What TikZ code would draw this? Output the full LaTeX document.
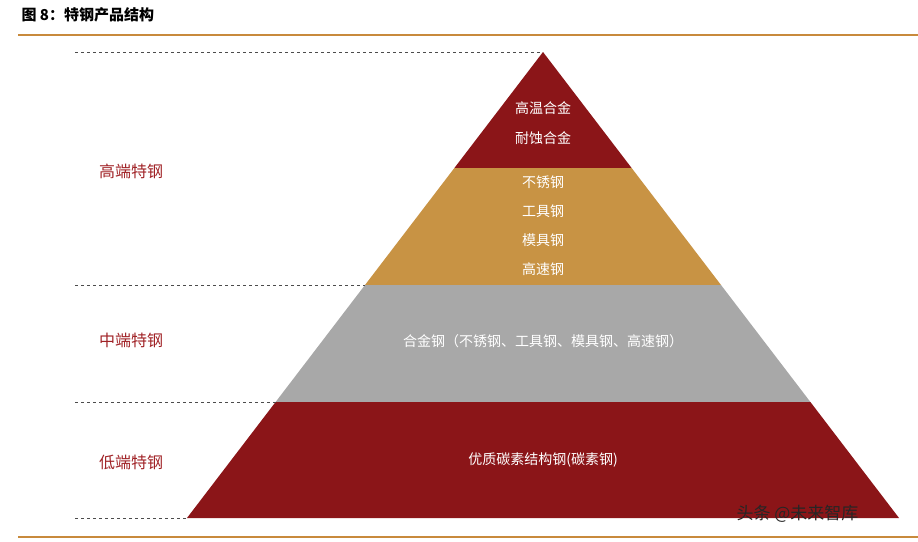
\documentclass[tikz,border=0pt]{standalone}
\usepackage{fontspec}
\newfontfamily\cjk{Noto Sans CJK SC}
\definecolor{dred}{HTML}{8B1518}
\definecolor{gold}{HTML}{C89344}
\definecolor{mgray}{HTML}{A8A8A8}
\definecolor{lab}{HTML}{A02226}
\definecolor{rulec}{HTML}{C88A3C}
\begin{document}
\begin{tikzpicture}[x=1pt,y=-1pt,
  wt/.style={text=white,font=\cjk\fontsize{14}{14}\selectfont,anchor=center},
  lv/.style={text=lab,font=\cjk\fontsize{16}{16}\selectfont,anchor=center},
  dl/.style={dashed,black!70,line width=0.7pt}]
\useasboundingbox (0,0) rectangle (918,541);
\coordinate (apex) at (543,52);
\coordinate (l1) at ({543-0.764*116},168); \coordinate (r1) at ({543+0.764*116},168);
\coordinate (l2) at ({543-0.764*233},285); \coordinate (r2) at ({543+0.764*233},285);
\coordinate (l3) at ({543-0.764*350},402); \coordinate (r3) at ({543+0.764*350},402);
\coordinate (l4) at ({543-0.764*466},518); \coordinate (r4) at ({543+0.764*466},518);
\fill[dred] (apex)--(r1)--(l1)--cycle;
\fill[gold] (l1)--(r1)--(r2)--(l2)--cycle;
\fill[mgray] (l2)--(r2)--(r3)--(l3)--cycle;
\fill[dred] (l3)--(r3)--(r4)--(l4)--cycle;
\coordinate (d0) at (75,52); \coordinate (d2) at (75,285);
\coordinate (d3) at (75,402); \coordinate (d4) at (75,518);
\draw[dl] (d0)--(apex); \draw[dl] (d2)--(l2); \draw[dl] (d3)--(l3); \draw[dl] (d4)--(l4);
\node[wt] (a1) at (543,108) {高温合金};
\node[wt] (a2) at (543,138) {耐蚀合金};
\node[wt] (b1) at (543,182) {不锈钢};
\node[wt] (b2) at (543,211) {工具钢};
\node[wt] (b3) at (543,240) {模具钢};
\node[wt] (b4) at (543,269) {高速钢};
\node[wt] (c1) at (543,341) {合金钢（不锈钢、工具钢、模具钢、高速钢）};
\node[wt] (e1) at (543,460) {优质碳素结构钢(碳素钢)};
\node[lv] (h) at (131,171) {高端特钢};
\node[lv] (m) at (131,340) {中端特钢};
\node[lv] (lo) at (131,462) {低端特钢};
\node[anchor=west,font=\cjk\bfseries\fontsize{15}{15}\selectfont] (t) at (18,15) {图 8：特钢产品结构};
\draw[draw=rulec,line width=1.2pt] (18,35)--(918,35);
\draw[draw=rulec,line width=1.2pt] (18,537)--(918,537);
\node[anchor=west,text=black!85,font=\cjk\fontsize{17}{17}\selectfont] (wm) at (733,514) {头条 @未来智库};
\end{tikzpicture}
\end{document}
